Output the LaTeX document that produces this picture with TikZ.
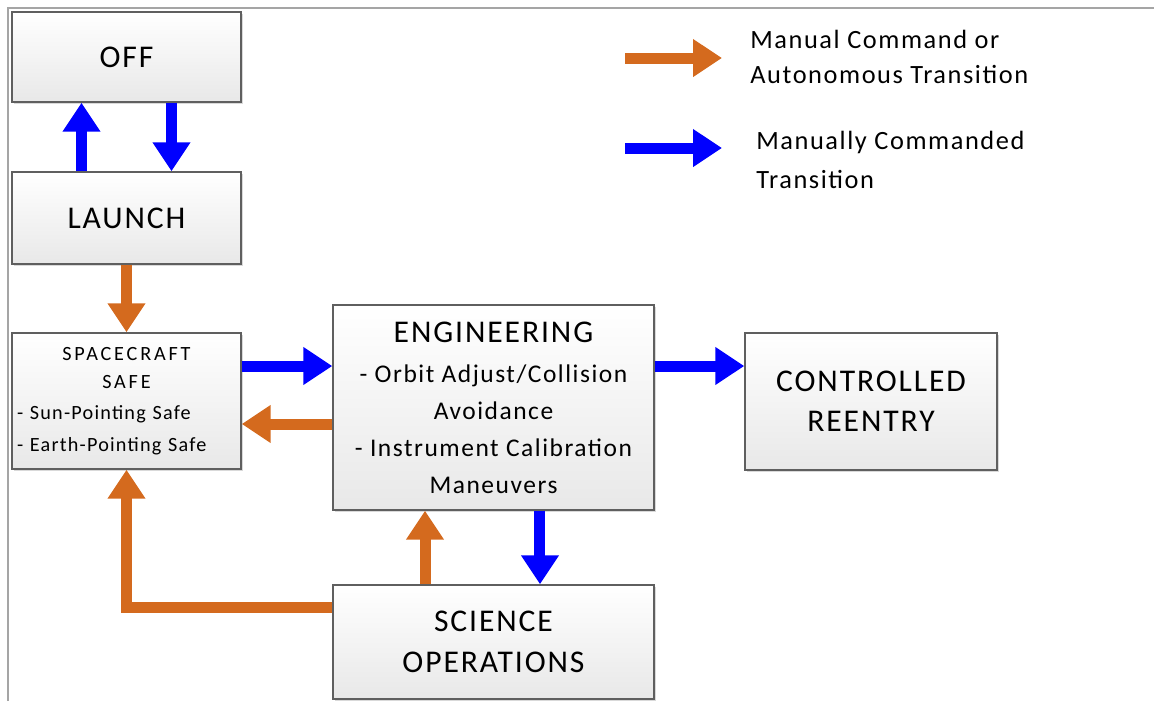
\documentclass[tikz,border=0pt]{standalone}
\usepackage{fontspec}
\setmainfont{Carlito}[LetterSpace=6]
\usetikzlibrary{arrows.meta,shadows}

\definecolor{autoOrange}{RGB}{212,106,30}
\definecolor{manualBlue}{RGB}{0,0,255}
\definecolor{boxLine}{RGB}{95,95,95}
\definecolor{frameGray}{RGB}{165,165,165}

\newcommand\stateFont{\fontsize{18}{23}\selectfont}
\newcommand\listFont{\fontsize{14.5}{21}\selectfont}
\newcommand\safeFont{\fontsize{11.5}{16.3}\selectfont}
\newcommand\keyFont{\fontsize{15}{20}\selectfont}

\begin{document}
\begin{tikzpicture}[
        x=0.02cm, y=-0.02cm,
        stateBox/.style={draw=boxLine, line width=0.8pt, top color=white, bottom color=black!9,
            drop shadow={opacity=0.3, shadow xshift=1.2pt, shadow yshift=-1.2pt},
            align=center, inner sep=0pt, font=\stateFont},
        fatArrow/.style={line width=0.22cm, -{Triangle[width=0.72cm,length=0.58cm]}},
        autoArrow/.style={fatArrow, draw=autoOrange},
        manualArrow/.style={fatArrow, draw=manualBlue}
    ]
        \useasboundingbox (0,0) rectangle (1154,701);
        \draw[frameGray, line width=1.2pt] (8,701) -- (8,8) -- (1154,8);

        \node[stateBox, minimum width=4.58cm, minimum height=1.8cm] (off) at (126.5,57) {OFF};
        \node[stateBox, minimum width=4.58cm, minimum height=1.84cm] (launch) at (126.5,218) {LAUNCH};
        \node[stateBox, minimum width=4.58cm, minimum height=2.72cm, text width=4.38cm, align=left, font=\safeFont] (safe) at (126.5,401) {%
            \makebox[\linewidth]{\addfontfeature{LetterSpace=14}SPACECRAFT}\\
            \makebox[\linewidth]{\addfontfeature{LetterSpace=14}SAFE}\\[1pt]
            - Sun-Pointing Safe\\[2pt]
            - Earth-Pointing Safe};
        \node[stateBox, minimum width=6.42cm, minimum height=4.1cm, font=\listFont] (eng) at (493.5,407.5) {%
            {\stateFont ENGINEERING}\\[2pt]
            - Orbit Adjust/Collision\\
            Avoidance\\
            - Instrument Calibration\\
            Maneuvers};
        \node[stateBox, minimum width=5.04cm, minimum height=2.74cm] (reentry) at (871,401.5) {CONTROLLED\\REENTRY};
        \node[stateBox, minimum width=6.42cm, minimum height=2.28cm] (sci) at (493.5,642) {SCIENCE\\OPERATIONS};

        \draw[manualArrow] ([xshift=-0.9cm]launch.north) -- ([xshift=-0.9cm]off.south);
        \draw[manualArrow] ([xshift=0.9cm]off.south) -- ([xshift=0.9cm]launch.north);
        \draw[autoArrow] (launch.south) -- (safe.north);
        \draw[manualArrow] ([yshift=0.7cm]safe.east) -- ([yshift=0.7cm]safe.east -| eng.west);
        \draw[autoArrow] ([yshift=-0.46cm]safe.east -| eng.west) -- ([yshift=-0.46cm]safe.east);
        \draw[manualArrow] ([yshift=0.71cm]reentry.west -| eng.east) -- ([yshift=0.71cm]reentry.west);
        \draw[manualArrow] ([xshift=0.93cm]eng.south) -- ([xshift=0.93cm]eng.south |- sci.north);
        \draw[autoArrow] ([xshift=-1.37cm]eng.south |- sci.north) -- ([xshift=-1.37cm]eng.south);
        \draw[autoArrow] ([yshift=0.7cm]sci.west) -| (safe.south);

        \node[anchor=west, align=left, inner sep=0pt, font=\keyFont] (autoKey) at (750,57) {Manual Command or\\Autonomous Transition};
        \node[anchor=west, align=left, inner sep=0pt, font=\keyFont] (manualKey) at (756,160) {Manually Commanded\\[2pt]Transition};
        \coordinate (autoKeyTail) at (625,58);
        \coordinate (manualKeyTail) at (625,148);
        \draw[autoArrow] (autoKeyTail) -- ([xshift=-0.56cm]autoKey.west |- autoKeyTail);
        \draw[manualArrow] (manualKeyTail) -- ([xshift=-0.68cm]manualKey.west |- manualKeyTail);
    \end{tikzpicture}
\end{document}
